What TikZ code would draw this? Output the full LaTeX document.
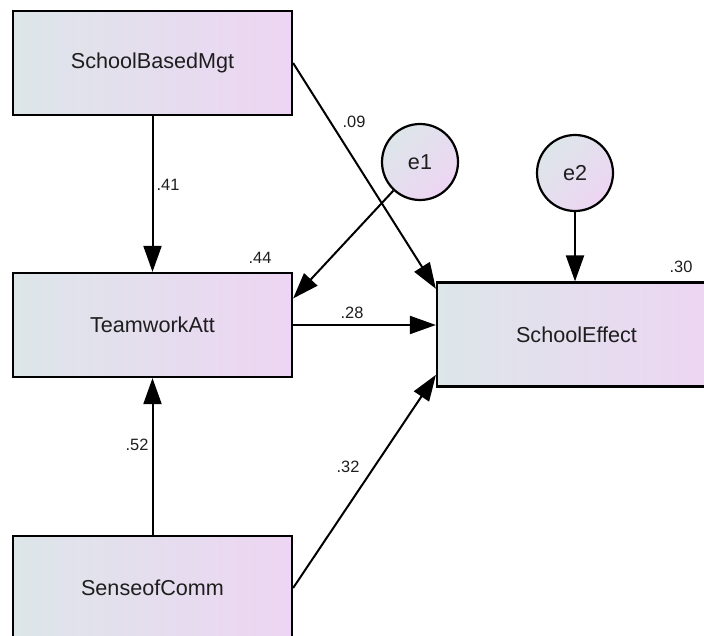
\documentclass[tikz,border=0pt]{standalone}
\usepackage{fontspec}
\setmainfont{Liberation Sans}
\usetikzlibrary{arrows.meta,calc}

\definecolor{boxleft}{RGB}{221,230,233}
\definecolor{boxright}{RGB}{237,213,243}
\definecolor{inkgray}{RGB}{30,30,30}

\tikzset{
    varbox/.style={draw=black, line width=1.1pt, left color=boxleft, right color=boxright,
        minimum width=139.5pt, minimum height=52pt, inner sep=0pt,
        font=\fontsize{10.8}{12}\selectfont, text=inkgray},
    errvar/.style={circle, draw=black, line width=1.1pt, top color=boxleft, bottom color=boxright,
        shading angle=45, minimum size=38pt, inner sep=0pt,
        font=\fontsize{10.8}{12}\selectfont, text=inkgray},
    regarrow/.style={line width=1pt, -{Triangle[length=13pt, width=9pt]}},
    coef/.style={font=\fontsize{8.2}{10}\selectfont, text=inkgray, inner sep=0pt}
}

\begin{document}
\begin{tikzpicture}[x=0.5pt, y=-0.5pt]
            %\draw[lightgray] (0, 0) grid[step=50] (704, 635);
            \useasboundingbox (0, 0) rectangle (704, 635);
            \node[varbox] (sbm) at (152.5, 63) {SchoolBasedMgt};
            \node[varbox] (ta) at (152.5, 325) {TeamworkAtt};
            \node[varbox] (sc) at (152.5, 588) {SenseofComm};
            \node[varbox] (se) at (576.5, 334.5) {SchoolEffect};
            \node[errvar] (e1) at (420, 162) {e1};
            \node[errvar] (e2) at (575, 173) {e2};
            \draw[regarrow] (sbm) -- (ta);
            \draw[regarrow] (sc) -- (ta);
            \draw[regarrow] (sbm.east) -- ($(se.north west)!0.07!(se.south west)$);
            \draw[regarrow] (e1) -- ($(ta.north east)!0.5!(ta.east)$);
            \draw[regarrow] (ta.east) -- (ta.east -| se.west);
            \draw[regarrow] (sc.east) -- ($(se.south west)!0.12!(se.north west)$);
            \draw[regarrow] (e2) -- (e2 |- se.north);
            \node[coef] (p41) at (168, 185) {.41};
            \node[coef] (p09) at (354, 122) {.09};
            \node[coef] (r44) at (260, 258) {.44};
            \node[coef] (p28) at (352, 313) {.28};
            \node[coef] (p52) at (137, 445) {.52};
            \node[coef] (p32) at (348, 467) {.32};
            \node[coef] (r30) at (681, 267) {.30};
        \end{tikzpicture}
\end{document}
